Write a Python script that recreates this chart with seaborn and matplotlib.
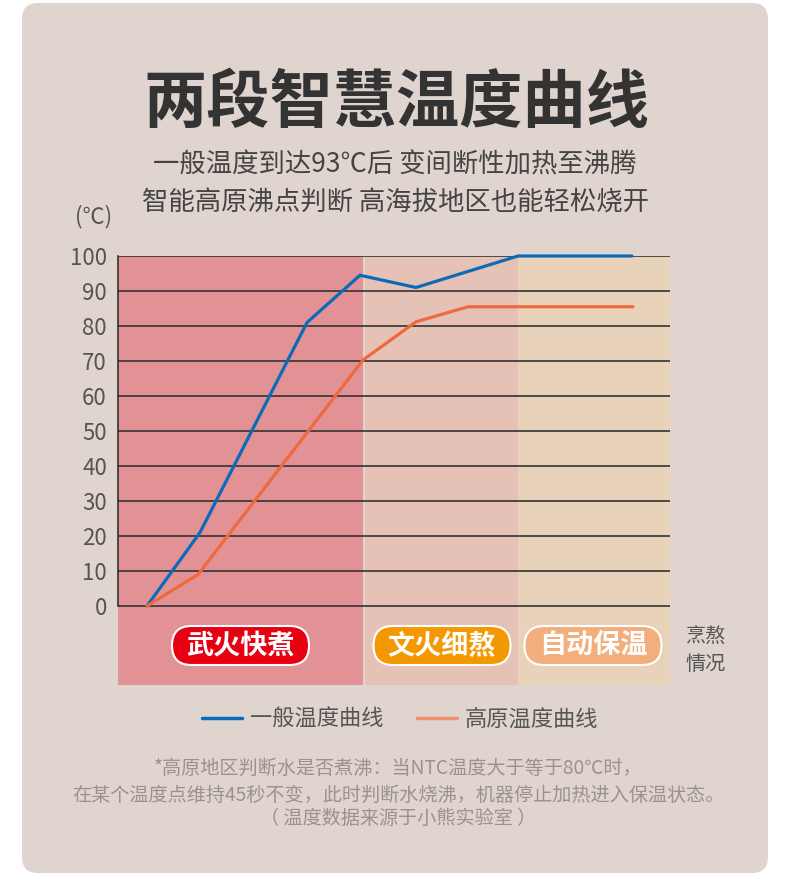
import numpy as np
import pandas as pd
import matplotlib
matplotlib.use("Agg")
import matplotlib.pyplot as plt
from matplotlib.patches import FancyBboxPatch
import seaborn as sns

# data (x = heating progress, arbitrary units)
normal_x = [2.9, 8.2, 18.9, 24.2, 29.8, 40.0, 51.4]
normal_t = [0, 21, 81, 94.5, 91, 100, 100]
plateau_x = [2.9, 8.0, 24.5, 29.8, 35.0, 51.5]
plateau_t = [0, 9, 70.3, 81.2, 85.5, 85.5]
series_names = ["一般温度曲线", "高原温度曲线"]

stage_edges = [(0, 24.5), (24.7, 40.0), (40.0, 55.2)]
stage_names = ["武火快煮", "文火细熬", "自动保温"]
stage_colors = ["#E29294", "#E5C2B5", "#E8D3BA"]
badge_colors = ["#E60012", "#F39800", "#F2AE7C"]

y_ticks = list(range(0, 101, 10))

title = "两段智慧温度曲线"
subtitle = ["一般温度到达93℃后 变间断性加热至沸腾", "智能高原沸点判断 高海拔地区也能轻松烧开"]
notes = ["*高原地区判断水是否煮沸：当NTC温度大于等于80℃时，",
         "在某个温度点维持45秒不变，此时判断水烧沸，机器停止加热进入保温状态。",
         "（ 温度数据来源于小熊实验室 ）"]

df = pd.concat([
    pd.DataFrame({"x": normal_x, "t": normal_t, "s": series_names[0]}),
    pd.DataFrame({"x": plateau_x, "t": plateau_t, "s": series_names[1]}),
])

sns.set_theme(style="white")
plt.rcParams["font.family"] = ["Noto Sans CJK SC", "DejaVu Sans"]

W, H = 790, 893
fig = plt.figure(figsize=(W / 100, H / 100), dpi=100)
fig.patch.set_facecolor("white")

# background card, pixel coordinates
bg = fig.add_axes([0, 0, 1, 1], zorder=0)
bg.set_xlim(0, W)
bg.set_ylim(H, 0)
bg.axis("off")
bg.add_patch(FancyBboxPatch((22, 3), 746, 870, boxstyle="round,pad=0,rounding_size=16",
                            fc="#E0D5CE", ec="none"))

# chart
ax = fig.add_axes([118 / W, 1 - 685 / H, 552 / W, 429 / H], zorder=1)
ax.patch.set_alpha(0)
for (a, b), c in zip(stage_edges, stage_colors):
    ax.axvspan(a, b, color=c, lw=0, zorder=0)

sns.lineplot(data=df, x="x", y="t", hue="s", sort=False, estimator=None,
             palette=["#0B6BBA", "#EE6A3E"], linewidth=2.3, ax=ax, legend=False,
             zorder=3, clip_on=False)

ax.set_xlim(0, 55.2)
ax.set_ylim(-22.57, 100)
ax.set_yticks(y_ticks)
ax.set_xticks([])
ax.grid(axis="y", color="#333333", lw=1.2, zorder=1)
ax.set_axisbelow(False)
for s in ["top", "right", "bottom"]:
    ax.spines[s].set_visible(False)
ax.spines["left"].set_bounds(0, 100)
ax.spines["left"].set_color("#333333")
ax.spines["left"].set_linewidth(1.2)
ax.tick_params(axis="y", length=0, pad=8, labelsize=16, labelcolor="#555555")
ax.set_xlabel("")
ax.set_ylabel("")

# overlay for text and badges
fg = fig.add_axes([0, 0, 1, 1], zorder=2)
fg.set_xlim(0, W)
fg.set_ylim(H, 0)
fg.axis("off")

fg.text(396, 103, title, ha="center", va="center", fontsize=45.5, fontweight="bold", color="#333333")
fg.text(395, 165, subtitle[0], ha="center", va="center", fontsize=19, color="#444444")
fg.text(395, 203, subtitle[1], ha="center", va="center", fontsize=19, color="#444444")
fg.text(94, 217, "(℃)", ha="center", va="center", fontsize=16, color="#555555")

for cx, name, col in zip([240.5, 442, 593], stage_names, badge_colors):
    fg.add_patch(FancyBboxPatch((cx - 68.5, 626), 137, 39, boxstyle="round,pad=0,rounding_size=19.5",
                                fc=col, ec="white", lw=1.5))
    fg.text(cx, 646, name, ha="center", va="center", fontsize=19.5, fontweight="bold", color="white")

fg.text(706, 636, "烹熬", ha="center", va="center", fontsize=14.5, color="#555555")
fg.text(706, 665, "情况", ha="center", va="center", fontsize=14.5, color="#555555")

# legend
handles = [plt.Line2D([], [], color="#0B6BBA", lw=2.5), plt.Line2D([], [], color="#F0906F", lw=2.5)]
fig.legend(handles, series_names, loc="center", bbox_to_anchor=(400 / W, 1 - 719 / H), ncol=2,
           frameon=False, fontsize=16, handlelength=1.8, handletextpad=0.35, columnspacing=1.5,
           labelcolor="#555555")

for y, line in zip([768, 795, 818], notes):
    fg.text(398, y, line, ha="center", va="center", fontsize=13.8, color="#9A9190")

fig.savefig("out.png", dpi=100)
